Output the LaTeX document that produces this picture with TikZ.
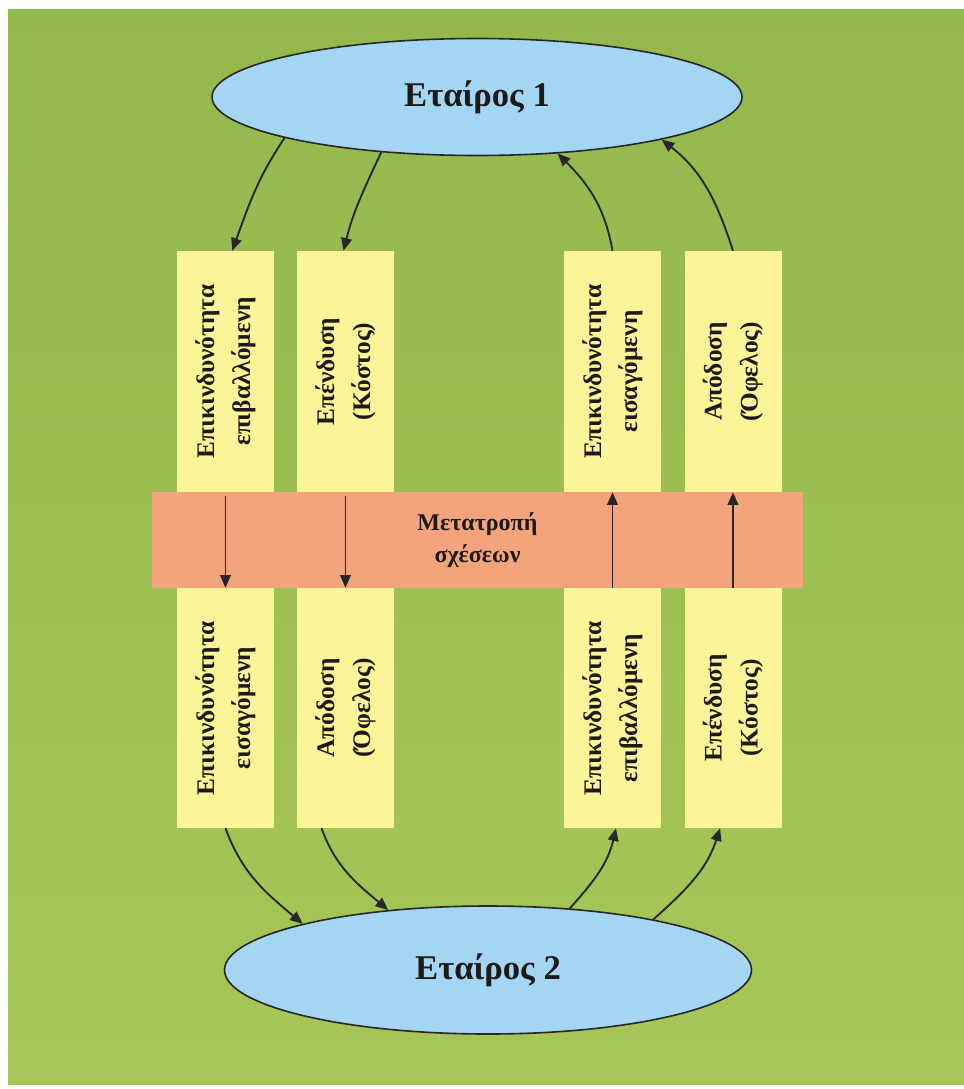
\documentclass[tikz,border=0pt]{standalone}
\usepackage{fontspec}
\setmainfont{Liberation Serif}
\usetikzlibrary{shapes.geometric,arrows.meta}
\definecolor{bgtop}{RGB}{146,184,76}
\definecolor{bgbot}{RGB}{168,198,88}
\definecolor{colfill}{RGB}{252,244,152}
\definecolor{bandfill}{RGB}{244,164,124}
\definecolor{partnerfill}{RGB}{164,214,244}
\definecolor{inkcol}{RGB}{40,38,40}
\definecolor{textcol}{RGB}{30,26,26}
\begin{document}
\begin{tikzpicture}[x=0.75pt,y=0.75pt,
  partner/.style={ellipse, draw=inkcol, line width=1.2pt, fill=partnerfill,
    inner sep=0pt, font=\fontsize{26}{30}\selectfont\bfseries, text=textcol},
  column/.style={rectangle, fill=colfill, minimum width=72.75pt, inner sep=0pt},
  coltext/.style={rotate=90, align=center, inner sep=0pt,
    font=\fontsize{19}{27}\selectfont\bfseries, text=textcol},
  band/.style={rectangle, fill=bandfill, minimum width=488.25pt, minimum height=72pt,
    inner sep=0pt, align=center, font=\fontsize{18}{23.5}\selectfont\bfseries, text=textcol},
  flow/.style={draw=inkcol, line width=1.4pt, -{Triangle[length=9.5pt,width=8pt]}},
]
\useasboundingbox (0,0) rectangle (964,-1089);
\fill[white] (0,0) rectangle (964,-1089);
\shade[top color=bgtop, bottom color=bgbot] (8,-9) rectangle (964,-1084);

% partners
\node[partner, minimum width=397.5pt, minimum height=87.75pt] (e1) at (477,-97) {Εταίρος 1};
\node[partner, minimum width=395.25pt, minimum height=96pt] (e2) at (488,-970) {Εταίρος 2};

% upper columns
\node[column, minimum height=180.75pt] (a1) at (225.5,-371.5) {};
\node[column, minimum height=180.75pt] (b1) at (345.5,-371.5) {};
\node[column, minimum height=180.75pt] (c1) at (612.5,-371.5) {};
\node[column, minimum height=180.75pt] (d1) at (733,-371.5) {};
\node[coltext] (ta1) at (a1) {Επικινδυνότητα\\επιβαλλόμενη};
\node[coltext] (tb1) at (b1) {Επένδυση\\(Κόστος)};
\node[coltext] (tc1) at (c1) {Επικινδυνότητα\\εισαγόμενη};
\node[coltext] (td1) at (d1) {Απόδοση\\(Όφελος)};

% lower columns
\node[column, minimum height=180pt] (a2) at (225.5,-708) {};
\node[column, minimum height=180pt] (b2) at (345.5,-708) {};
\node[column, minimum height=180pt] (c2) at (612.5,-708) {};
\node[column, minimum height=180pt] (d2) at (733,-708) {};
\node[coltext] (ta2) at (a2) {Επικινδυνότητα\\εισαγόμενη};
\node[coltext] (tb2) at (b2) {Απόδοση\\(Όφελος)};
\node[coltext] (tc2) at (c2) {Επικινδυνότητα\\επιβαλλόμενη};
\node[coltext] (td2) at (d2) {Επένδυση\\(Κόστος)};

% transformation band
\node[band] (mid) at (477.5,-540) {Μετατροπή\\σχέσεων};

% straight arrows through the band
\draw[flow] ([yshift=-3pt]a1.south) -- (a2.north);
\draw[flow] ([yshift=-3pt]b1.south) -- (b2.north);
\draw[flow] (c2.north) -- (c1.south);
\draw[flow] (d2.north) -- (d1.south);

% partner 1 <-> upper columns
\draw[flow] (e1.192) to[out=-124,in=70] ([xshift=5pt]a1.north);
\draw[flow] (e1.210) to[out=-115,in=76] ([xshift=-1.5pt]b1.north);
\draw[flow] (c1.north) to[out=100,in=-45] (e1.325);
\draw[flow] (d1.north) to[out=108,in=-38] (e1.347);

% lower columns <-> partner 2
\draw[flow] (a2.south) to[out=-70,in=140] (e2.166);
\draw[flow] ([xshift=-18pt]b2.south) to[out=-70,in=140] (e2.149);
\draw[flow] (e2.37) to[out=48,in=-103] ([xshift=2.6pt]c2.south);
\draw[flow] (e2.17) to[out=42,in=-108] ([xshift=-9.7pt]d2.south);
\end{tikzpicture}
\end{document}
